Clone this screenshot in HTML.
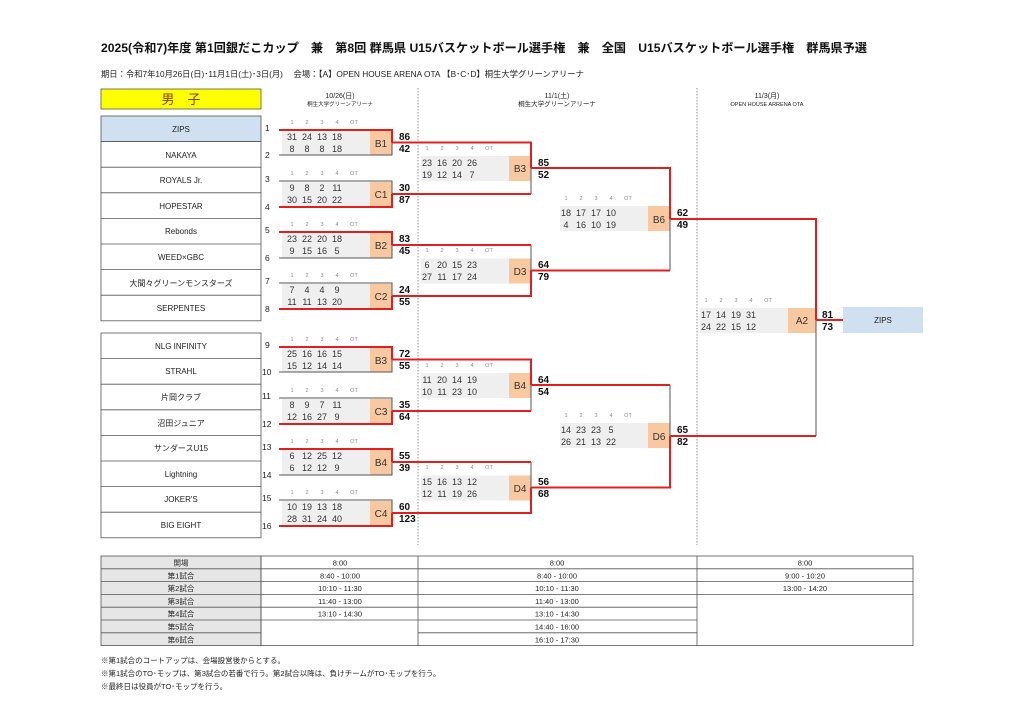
<!DOCTYPE html>
<html><head><meta charset="utf-8"><style>
html,body{margin:0;padding:0;background:#fff;}
svg{display:block;font-family:"Liberation Sans","Noto Sans CJK JP",sans-serif;}
.q{font-size:5.5px;fill:#888;text-anchor:middle}
.n{font-size:9px;fill:#333;text-anchor:middle}
.o{font-size:10px;fill:#333;text-anchor:middle}
.s{font-size:10px;font-weight:bold;fill:#111}
.t{font-size:8px;fill:#222;text-anchor:middle}
.num{font-size:8.5px;fill:#222}
.tb{font-size:7.5px;fill:#222;text-anchor:middle}
.r{stroke:#e02020;stroke-width:2;fill:none}
.g{stroke:#555;stroke-width:1;fill:none}
</style></head><body>
<svg width="1024" height="724" viewBox="0 0 1024 724">
<text x="101" y="52" style="font-size:12.2px;font-weight:bold" fill="#111" textLength="766" lengthAdjust="spacingAndGlyphs">2025(令和7)年度 第1回銀だこカップ　兼　第8回 群馬県 U15バスケットボール選手権　兼　全国　U15バスケットボール選手権　群馬県予選</text>
<text x="101" y="77" style="font-size:8.3px" fill="#222">期日：令和7年10月26日(日)･11月1日(土)･3日(月)　 会場：【A】OPEN HOUSE ARENA OTA 【B･C･D】桐生大学グリーンアリーナ</text>
<rect x="101" y="89" width="160" height="20" fill="#ffff00" stroke="#555" stroke-width="0.8"/>
<text x="181" y="104" style="font-size:13px" fill="#8b3a0a" text-anchor="middle">男　子</text>
<text x="340" y="98" class="t" style="font-size:7px">10/26(日)</text>
<text x="340" y="106" class="t" style="font-size:5.5px">桐生大学グリーンアリーナ</text>
<text x="557" y="98" class="t" style="font-size:7px">11/1(土)</text>
<text x="557" y="106" class="t" style="font-size:6.5px">桐生大学グリーンアリーナ</text>
<text x="767" y="98" class="t" style="font-size:7px">11/3(月)</text>
<text x="767" y="106" class="t" style="font-size:5.5px">OPEN HOUSE ARRENA OTA</text>
<line x1="418" y1="88" x2="418" y2="545" stroke="#777" stroke-dasharray="1.5,1.5" stroke-width="0.8"/>
<line x1="697" y1="88" x2="697" y2="545" stroke="#777" stroke-dasharray="1.5,1.5" stroke-width="0.8"/>

<g stroke="#555" stroke-width="0.8">
<rect x="101" y="116" width="160" height="25.6" fill="#cfe0f1"/>
<rect x="101" y="141.6" width="160" height="179.2" fill="#fff"/>
<line x1="101" y1="167.2" x2="261" y2="167.2"/><line x1="101" y1="192.8" x2="261" y2="192.8"/><line x1="101" y1="218.4" x2="261" y2="218.4"/><line x1="101" y1="244" x2="261" y2="244"/><line x1="101" y1="269.6" x2="261" y2="269.6"/><line x1="101" y1="295.2" x2="261" y2="295.2"/>
<rect x="101" y="333" width="160" height="204.8" fill="#fff"/>
<line x1="101" y1="358.6" x2="261" y2="358.6"/><line x1="101" y1="384.2" x2="261" y2="384.2"/><line x1="101" y1="409.8" x2="261" y2="409.8"/><line x1="101" y1="435.4" x2="261" y2="435.4"/><line x1="101" y1="461" x2="261" y2="461"/><line x1="101" y1="486.6" x2="261" y2="486.6"/><line x1="101" y1="512.2" x2="261" y2="512.2"/>
</g>
<g class="t">
<text x="181" y="132">ZIPS</text><text x="181" y="158">NAKAYA</text><text x="181" y="183">ROYALS Jr.</text><text x="181" y="209">HOPESTAR</text><text x="181" y="234">Rebonds</text><text x="181" y="260">WEED×GBC</text><text x="181" y="286">大間々グリーンモンスターズ</text><text x="181" y="311">SERPENTES</text>
<text x="181" y="349">NLG INFINITY</text><text x="181" y="374">STRAHL</text><text x="181" y="400">片岡クラブ</text><text x="181" y="426">沼田ジュニア</text><text x="181" y="451">サンダースU15</text><text x="181" y="477">Lightning</text><text x="181" y="502">JOKER'S</text><text x="181" y="528">BIG EIGHT</text>
</g>
<g class="num">
<text x="265" y="131">1</text><text x="265" y="158">2</text><text x="265" y="182">3</text><text x="265" y="210">4</text><text x="265" y="233">5</text><text x="265" y="261">6</text><text x="265" y="284">7</text><text x="265" y="312">8</text>
<text x="265" y="348">9</text><text x="262" y="375">10</text><text x="262" y="399">11</text><text x="262" y="427">12</text><text x="262" y="450">13</text><text x="262" y="478">14</text><text x="262" y="501">15</text><text x="262" y="529">16</text>
</g>

<g>
<rect x="282" y="130.5" width="88" height="25" fill="#efefef"/><rect x="370" y="130.5" width="22" height="25" fill="#f8c8a0"/>
<rect x="282" y="182" width="88" height="25" fill="#efefef"/><rect x="370" y="182" width="22" height="25" fill="#f8c8a0"/>
<rect x="282" y="233" width="88" height="25" fill="#efefef"/><rect x="370" y="233" width="22" height="25" fill="#f8c8a0"/>
<rect x="282" y="284" width="88" height="25" fill="#efefef"/><rect x="370" y="284" width="22" height="25" fill="#f8c8a0"/>
<rect x="282" y="347.5" width="88" height="25" fill="#efefef"/><rect x="370" y="347.5" width="22" height="25" fill="#f8c8a0"/>
<rect x="282" y="399" width="88" height="25" fill="#efefef"/><rect x="370" y="399" width="22" height="25" fill="#f8c8a0"/>
<rect x="282" y="450" width="88" height="25" fill="#efefef"/><rect x="370" y="450" width="22" height="25" fill="#f8c8a0"/>
<rect x="282" y="501" width="88" height="25" fill="#efefef"/><rect x="370" y="501" width="22" height="25" fill="#f8c8a0"/>
<rect x="421" y="156" width="88" height="25" fill="#efefef"/><rect x="509" y="156" width="22" height="25" fill="#f8c8a0"/>
<rect x="421" y="258.5" width="88" height="25" fill="#efefef"/><rect x="509" y="258.5" width="22" height="25" fill="#f8c8a0"/>
<rect x="421" y="373" width="88" height="25" fill="#efefef"/><rect x="509" y="373" width="22" height="25" fill="#f8c8a0"/>
<rect x="421" y="475.5" width="88" height="25" fill="#efefef"/><rect x="509" y="475.5" width="22" height="25" fill="#f8c8a0"/>
<rect x="560" y="206" width="88" height="25" fill="#efefef"/><rect x="648" y="206" width="22" height="25" fill="#f8c8a0"/>
<rect x="560" y="423" width="88" height="25" fill="#efefef"/><rect x="648" y="423" width="22" height="25" fill="#f8c8a0"/>
<rect x="700" y="308" width="88" height="25" fill="#efefef"/><rect x="788" y="308" width="28" height="25" fill="#f8c8a0"/>
<rect x="843" y="307" width="80" height="26" fill="#cfe0f1"/>
<text x="883" y="323" class="t">ZIPS</text>
</g>

<g>
<path class="g" d="M279 155H392V142.5"/>
<path class="g" d="M279 181H392V194"/>
<path class="g" d="M279 258H392V245"/>
<path class="g" d="M279 283H392V296"/>
<path class="g" d="M279 372H392V359.5"/>
<path class="g" d="M279 398H392V411"/>
<path class="g" d="M279 475H392V462"/>
<path class="g" d="M279 500H392V513"/>
<path class="g" d="M531 194V168"/>
<path class="g" d="M531 245V270.5"/>
<path class="g" d="M531 411V385"/>
<path class="g" d="M531 462V487.5"/>
<path class="g" d="M670 270.5V219"/>
<path class="g" d="M670 385V436"/>
<path class="g" d="M816 436V320"/>
<path class="r" d="M279 130H392V142.5"/>
<path class="r" d="M279 207H392V194"/>
<path class="r" d="M279 232H392V245"/>
<path class="r" d="M279 309H392V296"/>
<path class="r" d="M279 347H392V359.5"/>
<path class="r" d="M279 424H392V411"/>
<path class="r" d="M279 449H392V462"/>
<path class="r" d="M279 526H392V513"/>
<path class="r" d="M392 142.5H531V168"/>
<path class="r" d="M392 194H531"/>
<path class="r" d="M392 245H531"/>
<path class="r" d="M392 296H531V270.5"/>
<path class="r" d="M392 359.5H531V385"/>
<path class="r" d="M392 411H531"/>
<path class="r" d="M392 462H531"/>
<path class="r" d="M392 513H531V487.5"/>
<path class="r" d="M531 168H670V219"/>
<path class="r" d="M531 270.5H670"/>
<path class="r" d="M531 385H670"/>
<path class="r" d="M531 487.5H670V436"/>
<path class="r" d="M670 219H816V320"/>
<path class="r" d="M670 436H816"/>
<path class="r" d="M816 320H843"/>
</g>

<g class="q">
<text x="292" y="124">1</text><text x="307" y="124">2</text><text x="322" y="124">3</text><text x="337" y="124">4</text><text x="354" y="124">OT</text>
<text x="292" y="175">1</text><text x="307" y="175">2</text><text x="322" y="175">3</text><text x="337" y="175">4</text><text x="354" y="175">OT</text>
<text x="292" y="226">1</text><text x="307" y="226">2</text><text x="322" y="226">3</text><text x="337" y="226">4</text><text x="354" y="226">OT</text>
<text x="292" y="277">1</text><text x="307" y="277">2</text><text x="322" y="277">3</text><text x="337" y="277">4</text><text x="354" y="277">OT</text>
<text x="292" y="341">1</text><text x="307" y="341">2</text><text x="322" y="341">3</text><text x="337" y="341">4</text><text x="354" y="341">OT</text>
<text x="292" y="392">1</text><text x="307" y="392">2</text><text x="322" y="392">3</text><text x="337" y="392">4</text><text x="354" y="392">OT</text>
<text x="292" y="443">1</text><text x="307" y="443">2</text><text x="322" y="443">3</text><text x="337" y="443">4</text><text x="354" y="443">OT</text>
<text x="292" y="494">1</text><text x="307" y="494">2</text><text x="322" y="494">3</text><text x="337" y="494">4</text><text x="354" y="494">OT</text>
<text x="427" y="150">1</text><text x="442" y="150">2</text><text x="457" y="150">3</text><text x="472" y="150">4</text><text x="489" y="150">OT</text>
<text x="427" y="252">1</text><text x="442" y="252">2</text><text x="457" y="252">3</text><text x="472" y="252">4</text><text x="489" y="252">OT</text>
<text x="427" y="367">1</text><text x="442" y="367">2</text><text x="457" y="367">3</text><text x="472" y="367">4</text><text x="489" y="367">OT</text>
<text x="427" y="469">1</text><text x="442" y="469">2</text><text x="457" y="469">3</text><text x="472" y="469">4</text><text x="489" y="469">OT</text>
<text x="566" y="200">1</text><text x="581" y="200">2</text><text x="596" y="200">3</text><text x="611" y="200">4</text><text x="628" y="200">OT</text>
<text x="566" y="417">1</text><text x="581" y="417">2</text><text x="596" y="417">3</text><text x="611" y="417">4</text><text x="628" y="417">OT</text>
<text x="706" y="302">1</text><text x="721" y="302">2</text><text x="736" y="302">3</text><text x="751" y="302">4</text><text x="768" y="302">OT</text>
</g>

<g class="n">
<text x="292" y="140">31</text><text x="307" y="140">24</text><text x="322" y="140">13</text><text x="337" y="140">18</text>
<text x="292" y="152">8</text><text x="307" y="152">8</text><text x="322" y="152">8</text><text x="337" y="152">18</text>
<text x="292" y="191">9</text><text x="307" y="191">8</text><text x="322" y="191">2</text><text x="337" y="191">11</text>
<text x="292" y="203">30</text><text x="307" y="203">15</text><text x="322" y="203">20</text><text x="337" y="203">22</text>
<text x="292" y="242">23</text><text x="307" y="242">22</text><text x="322" y="242">20</text><text x="337" y="242">18</text>
<text x="292" y="254">9</text><text x="307" y="254">15</text><text x="322" y="254">16</text><text x="337" y="254">5</text>
<text x="292" y="293">7</text><text x="307" y="293">4</text><text x="322" y="293">4</text><text x="337" y="293">9</text>
<text x="292" y="305">11</text><text x="307" y="305">11</text><text x="322" y="305">13</text><text x="337" y="305">20</text>
<text x="292" y="357">25</text><text x="307" y="357">16</text><text x="322" y="357">16</text><text x="337" y="357">15</text>
<text x="292" y="369">15</text><text x="307" y="369">12</text><text x="322" y="369">14</text><text x="337" y="369">14</text>
<text x="292" y="408">8</text><text x="307" y="408">9</text><text x="322" y="408">7</text><text x="337" y="408">11</text>
<text x="292" y="420">12</text><text x="307" y="420">16</text><text x="322" y="420">27</text><text x="337" y="420">9</text>
<text x="292" y="459">6</text><text x="307" y="459">12</text><text x="322" y="459">25</text><text x="337" y="459">12</text>
<text x="292" y="471">6</text><text x="307" y="471">12</text><text x="322" y="471">12</text><text x="337" y="471">9</text>
<text x="292" y="510">10</text><text x="307" y="510">19</text><text x="322" y="510">13</text><text x="337" y="510">18</text>
<text x="292" y="522">28</text><text x="307" y="522">31</text><text x="322" y="522">24</text><text x="337" y="522">40</text>
<text x="427" y="166">23</text><text x="442" y="166">16</text><text x="457" y="166">20</text><text x="472" y="166">26</text>
<text x="427" y="178">19</text><text x="442" y="178">12</text><text x="457" y="178">14</text><text x="472" y="178">7</text>
<text x="427" y="268">6</text><text x="442" y="268">20</text><text x="457" y="268">15</text><text x="472" y="268">23</text>
<text x="427" y="280">27</text><text x="442" y="280">11</text><text x="457" y="280">17</text><text x="472" y="280">24</text>
<text x="427" y="383">11</text><text x="442" y="383">20</text><text x="457" y="383">14</text><text x="472" y="383">19</text>
<text x="427" y="395">10</text><text x="442" y="395">11</text><text x="457" y="395">23</text><text x="472" y="395">10</text>
<text x="427" y="485">15</text><text x="442" y="485">16</text><text x="457" y="485">13</text><text x="472" y="485">12</text>
<text x="427" y="497">12</text><text x="442" y="497">11</text><text x="457" y="497">19</text><text x="472" y="497">26</text>
<text x="566" y="216">18</text><text x="581" y="216">17</text><text x="596" y="216">17</text><text x="611" y="216">10</text>
<text x="566" y="228">4</text><text x="581" y="228">16</text><text x="596" y="228">10</text><text x="611" y="228">19</text>
<text x="566" y="433">14</text><text x="581" y="433">23</text><text x="596" y="433">23</text><text x="611" y="433">5</text>
<text x="566" y="445">26</text><text x="581" y="445">21</text><text x="596" y="445">13</text><text x="611" y="445">22</text>
<text x="706" y="318">17</text><text x="721" y="318">14</text><text x="736" y="318">19</text><text x="751" y="318">31</text>
<text x="706" y="330">24</text><text x="721" y="330">22</text><text x="736" y="330">15</text><text x="751" y="330">12</text>
</g>

<g class="o">
<text x="381" y="147">B1</text><text x="381" y="198">C1</text><text x="381" y="249">B2</text><text x="381" y="300">C2</text>
<text x="381" y="364">B3</text><text x="381" y="415">C3</text><text x="381" y="466">B4</text><text x="381" y="517">C4</text>
<text x="520" y="172">B3</text><text x="520" y="275">D3</text><text x="520" y="389">B4</text><text x="520" y="492">D4</text>
<text x="659" y="223">B6</text><text x="659" y="440">D6</text><text x="802" y="324">A2</text>
</g>

<g class="s">
<text x="399" y="140">86</text><text x="399" y="152">42</text>
<text x="399" y="191">30</text><text x="399" y="203">87</text>
<text x="399" y="242">83</text><text x="399" y="254">45</text>
<text x="399" y="293">24</text><text x="399" y="305">55</text>
<text x="399" y="357">72</text><text x="399" y="369">55</text>
<text x="399" y="408">35</text><text x="399" y="420">64</text>
<text x="399" y="459">55</text><text x="399" y="471">39</text>
<text x="399" y="510">60</text><text x="399" y="522">123</text>
<text x="538" y="166">85</text><text x="538" y="178">52</text>
<text x="538" y="268">64</text><text x="538" y="280">79</text>
<text x="538" y="383">64</text><text x="538" y="395">54</text>
<text x="538" y="485">56</text><text x="538" y="497">68</text>
<text x="677" y="216">62</text><text x="677" y="228">49</text>
<text x="677" y="433">65</text><text x="677" y="445">82</text>
<text x="822" y="318">81</text><text x="822" y="330">73</text>
</g>

<g stroke="#555" stroke-width="0.8">
<rect x="101" y="556" width="160" height="89.6" fill="#e6e6e6"/>
<rect x="261" y="556" width="652" height="89.6" fill="#fff"/>
<line x1="101" y1="568.8" x2="913" y2="568.8"/>
<line x1="101" y1="581.6" x2="913" y2="581.6"/>
<line x1="101" y1="594.4" x2="913" y2="594.4"/>
<line x1="101" y1="607.2" x2="697" y2="607.2"/>
<line x1="101" y1="620" x2="697" y2="620"/>
<line x1="101" y1="632.8" x2="261" y2="632.8"/>
<line x1="418" y1="632.8" x2="697" y2="632.8"/>
<line x1="261" y1="556" x2="261" y2="645.6"/>
<line x1="418" y1="556" x2="418" y2="645.6"/>
<line x1="697" y1="556" x2="697" y2="645.6"/>
</g>
<g class="tb">
<text x="181" y="565.5">開場</text><text x="340" y="565.5">8:00</text><text x="557" y="565.5">8:00</text><text x="805" y="565.5">8:00</text>
<text x="181" y="578.3">第1試合</text><text x="340" y="578.3">8:40 - 10:00</text><text x="557" y="578.3">8:40 - 10:00</text><text x="805" y="578.3">9:00 - 10:20</text>
<text x="181" y="591.1">第2試合</text><text x="340" y="591.1">10:10 - 11:30</text><text x="557" y="591.1">10:10 - 11:30</text><text x="805" y="591.1">13:00 - 14:20</text>
<text x="181" y="603.9">第3試合</text><text x="340" y="603.9">11:40 - 13:00</text><text x="557" y="603.9">11:40 - 13:00</text>
<text x="181" y="616.7">第4試合</text><text x="340" y="616.7">13:10 - 14:30</text><text x="557" y="616.7">13:10 - 14:30</text>
<text x="181" y="629.5">第5試合</text><text x="557" y="629.5">14:40 - 16:00</text>
<text x="181" y="642.3">第6試合</text><text x="557" y="642.3">16:10 - 17:30</text>
</g>
<g style="font-size:7.5px" fill="#222">
<text x="101" y="663">※第1試合のコートアップは、会場設営後からとする。</text>
<text x="101" y="676">※第1試合のTO･モップは、第3試合の若番で行う。第2試合以降は、負けチームがTO･モップを行う。</text>
<text x="101" y="689">※最終日は役員がTO･モップを行う。</text>
</g>
</svg>
</body></html>
